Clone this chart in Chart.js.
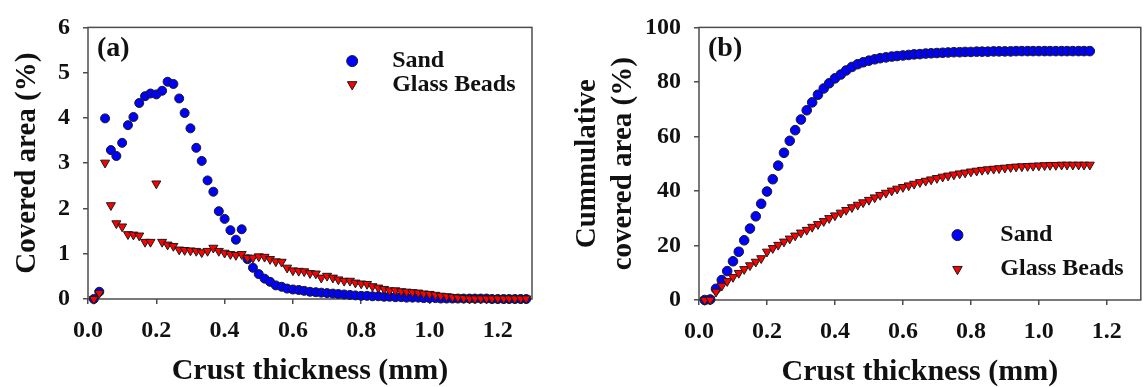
<!DOCTYPE html>
<html>
<head>
<meta charset="utf-8">
<script src="https://cdn.jsdelivr.net/npm/chart.js@4.4.1/dist/chart.umd.min.js"></script>
<style>
  html, body { margin: 0; padding: 0; background: #fff; }
  body { width: 1147px; height: 387px; position: relative; overflow: hidden; }
  .panel { position: absolute; top: 0; }
  #panelA { left: 0; width: 560px; height: 387px; }
  #panelB { left: 570px; width: 577px; height: 387px; }
</style>
</head>
<body>
<div class="panel" id="panelA"><canvas id="chartA" width="560" height="387"></canvas></div>
<div class="panel" id="panelB"><canvas id="chartB" width="577" height="387"></canvas></div>
<script>
// crust thickness steps (mm)
const thickness = [
  0.017, 0.033, 0.050, 0.067, 0.083, 0.100, 0.117, 0.133, 0.150, 0.167,
  0.183, 0.200, 0.217, 0.233, 0.250, 0.267, 0.283, 0.300, 0.317, 0.333,
  0.350, 0.367, 0.383, 0.400, 0.417, 0.433, 0.450, 0.467, 0.483, 0.500,
  0.517, 0.533, 0.550, 0.567, 0.583, 0.600, 0.617, 0.633, 0.650, 0.667,
  0.683, 0.700, 0.717, 0.733, 0.750, 0.767, 0.783, 0.800, 0.817, 0.833,
  0.850, 0.867, 0.883, 0.900, 0.917, 0.933, 0.950, 0.967, 0.983, 1.000,
  1.017, 1.033, 1.050, 1.067, 1.083, 1.100, 1.117, 1.133, 1.150, 1.167,
  1.183, 1.200, 1.217, 1.233, 1.250, 1.267, 1.283
];

// (a) covered area per thickness step (%)
const sandArea = [
  0.00, 0.16, 3.99, 3.29, 3.16, 3.45, 3.84, 4.02, 4.33, 4.48,
  4.54, 4.52, 4.60, 4.80, 4.75, 4.43, 4.11, 3.77, 3.34, 3.05,
  2.62, 2.37, 1.94, 1.77, 1.52, 1.31, 1.54, 0.88, 0.69, 0.55,
  0.45, 0.38, 0.30, 0.27, 0.23, 0.21, 0.20, 0.18, 0.16, 0.15,
  0.14, 0.13, 0.12, 0.11, 0.10, 0.09, 0.08, 0.07, 0.07, 0.06,
  0.06, 0.05, 0.05, 0.04, 0.04, 0.03, 0.03, 0.03, 0.02, 0.02,
  0.02, 0.01, 0.01, 0.01, 0.01, 0.01, 0.01, 0.01, 0.01, 0.01,
  0.00, 0.00, 0.00, 0.00, 0.00, 0.00, 0.00
];
const glassArea = [
  0.00, 0.13, 3.01, 2.07, 1.67, 1.60, 1.43, 1.42, 1.40, 1.26,
  1.26, 2.55, 1.26, 1.20, 1.17, 1.09, 1.08, 1.07, 1.06, 1.03,
  1.06, 1.13, 1.06, 1.02, 0.99, 0.97, 0.99, 0.91, 0.91, 0.94,
  0.93, 0.88, 0.83, 0.82, 0.69, 0.63, 0.62, 0.61, 0.57, 0.56,
  0.47, 0.51, 0.47, 0.43, 0.40, 0.40, 0.36, 0.34, 0.33, 0.28,
  0.25, 0.22, 0.19, 0.19, 0.17, 0.16, 0.15, 0.14, 0.12, 0.11,
  0.09, 0.07, 0.06, 0.04, 0.03, 0.02, 0.01, 0.01, 0.01, 0.01,
  0.01, 0.01, 0.01, 0.01, 0.01, 0.01, 0.01
];

// (b) cumulative covered area (%)
const sandCumulative = [
  0.0, 0.2, 4.1, 7.3, 10.6, 14.2, 17.7, 21.9, 26.2, 30.7,
  35.3, 39.8, 44.3, 49.3, 54.0, 58.4, 62.3, 66.2, 69.6, 72.5,
  75.3, 77.6, 79.5, 81.3, 82.7, 84.2, 85.5, 86.5, 87.2, 87.8,
  88.3, 88.7, 89.0, 89.3, 89.5, 89.7, 89.9, 90.1, 90.2, 90.4,
  90.5, 90.6, 90.7, 90.8, 90.9, 90.9, 91.0, 91.0, 91.1, 91.1,
  91.1, 91.2, 91.2, 91.2, 91.2, 91.3, 91.3, 91.3, 91.3, 91.3,
  91.3, 91.3, 91.3, 91.3, 91.3, 91.3, 91.3, 91.3, 91.3
];
const glassCumulative = [
  0.0, 0.1, 3.0, 5.2, 6.9, 8.4, 9.9, 11.3, 12.7, 14.0,
  15.3, 17.7, 19.0, 20.2, 21.4, 22.5, 23.6, 24.7, 25.7, 26.8,
  27.8, 28.9, 30.0, 31.0, 32.0, 33.0, 34.0, 34.9, 35.8, 36.7,
  37.6, 38.5, 39.3, 40.1, 40.8, 41.4, 42.0, 42.6, 43.2, 43.7,
  44.2, 44.7, 45.2, 45.6, 46.0, 46.4, 46.7, 47.1, 47.4, 47.7,
  47.9, 48.1, 48.3, 48.5, 48.7, 48.9, 49.0, 49.1, 49.2, 49.3,
  49.4, 49.5, 49.5, 49.6, 49.6, 49.6, 49.6, 49.6, 49.6
];

const seriesNames = ['Sand', 'Glass Beads'];
const xTitle = 'Crust thickness (mm)';

const SERIF = '"Liberation Serif", "Times New Roman", serif';
const INK = '#111';
const AXIS = '#4d4d4d';

Chart.defaults.font.family = SERIF;
Chart.defaults.font.weight = 'bold';
Chart.defaults.color = INK;

const sandStyle = { pointStyle: 'circle', backgroundColor: '#0000ff', rotation: 0 };
const glassStyle = { pointStyle: 'triangle', backgroundColor: '#ff0000', rotation: 180 };

function pairs(xs, ys) {
  return ys.map((y, i) => ({ x: xs[i], y: y }));
}

// box around the plot area, panel tag and the inset legend
const panelDecor = {
  id: 'panelDecor',
  beforeDatasetsDraw(chart) {
    const { ctx, chartArea: a } = chart;
    ctx.save();
    ctx.strokeStyle = AXIS;
    ctx.lineWidth = 1.5;
    ctx.strokeRect(a.left, a.top, a.right - a.left, a.bottom - a.top);
    ctx.restore();
  },
  afterDraw(chart, args, opts) {
    const { ctx, chartArea: a } = chart;
    const w = a.right - a.left, h = a.bottom - a.top;
    ctx.save();
    ctx.fillStyle = INK;
    ctx.textBaseline = 'middle';
    ctx.textAlign = 'left';
    ctx.font = 'bold 28px ' + SERIF;
    ctx.fillText(opts.tag, a.left + 9, a.top + 21);

    ctx.font = 'bold 24px ' + SERIF;
    opts.legend.forEach((item, i) => {
      const y = a.top + h * opts.legendY[i];
      const mx = a.left + w * opts.markerX;
      ctx.fillStyle = item.style.backgroundColor;
      ctx.strokeStyle = '#1a1a1a';
      ctx.lineWidth = 1;
      Chart.helpers.drawPoint(ctx, {
        pointStyle: item.style.pointStyle,
        rotation: item.style.rotation,
        radius: 5.5,
        borderWidth: 1
      }, mx, y);
      ctx.fillStyle = INK;
      ctx.fillText(item.label, a.left + w * opts.textX, y);
    });
    ctx.restore();
  }
};

function makeDataset(label, data, style, radius, order) {
  return {
    label: label,
    data: data,
    showLine: false,
    clip: false,
    order: order,
    pointStyle: style.pointStyle,
    rotation: style.rotation,
    pointRadius: radius,
    pointHoverRadius: radius,
    pointBackgroundColor: style.backgroundColor,
    pointBorderColor: '#1a1a1a',
    pointBorderWidth: 1
  };
}

function axisX(titlePadBottom, height) {
  return {
    type: 'linear',
    min: 0,
    max: 1.3,
    afterFit: s => { s.height = height; },
    border: { display: false },
    grid: { drawOnChartArea: false, drawTicks: true, tickLength: 5, color: AXIS, lineWidth: 1.5 },
    ticks: {
      stepSize: 0.2,
      includeBounds: false,
      padding: 12,
      color: INK,
      font: { size: 24, weight: 'bold' },
      maxRotation: 0,
      callback: v => v.toFixed(1)
    },
    title: {
      display: true,
      text: xTitle,
      color: INK,
      font: { size: 30, weight: 'bold', lineHeight: 1 },
      padding: { top: 0, bottom: titlePadBottom }
    }
  };
}

function axisY(max, step, width, title, titlePadTop, lineHeight) {
  return {
    type: 'linear',
    min: 0,
    max: max,
    afterFit: s => { s.width = width; },
    border: { display: false },
    grid: { drawOnChartArea: false, drawTicks: true, tickLength: 5, color: AXIS, lineWidth: 1.5 },
    ticks: {
      stepSize: step,
      padding: 13,
      color: INK,
      font: { size: 24, weight: 'bold' }
    },
    title: {
      display: true,
      text: title,
      color: INK,
      font: { size: 29, weight: 'bold', lineHeight: lineHeight },
      padding: { top: titlePadTop, bottom: 0 }
    }
  };
}

const legendItems = [
  { label: seriesNames[0], style: sandStyle },
  { label: seriesNames[1], style: glassStyle }
];

new Chart(document.getElementById('chartA'), {
  type: 'scatter',
  data: {
    datasets: [
      makeDataset(seriesNames[0], pairs(thickness, sandArea), sandStyle, 4.5, 1),
      makeDataset(seriesNames[1], pairs(thickness, glassArea), glassStyle, 5.2, 0)
    ]
  },
  options: {
    responsive: false,
    animation: false,
    events: [],
    layout: { padding: { top: 17, right: 28, left: 0, bottom: 0 } },
    scales: {
      x: axisX(1, 88),
      y: axisY(6, 1, 88, 'Covered area (%)', 10, 1.2)
    },
    plugins: {
      legend: { display: false },
      tooltip: { enabled: false },
      panelDecor: { tag: '(a)', legend: legendItems, markerX: 0.595, textX: 0.685, legendY: [0.124, 0.21] }
    }
  },
  plugins: [panelDecor]
});

new Chart(document.getElementById('chartB'), {
  type: 'scatter',
  data: {
    datasets: [
      makeDataset(seriesNames[0], pairs(thickness, sandCumulative), sandStyle, 4.8, 1),
      makeDataset(seriesNames[1], pairs(thickness, glassCumulative), glassStyle, 5.2, 0)
    ]
  },
  options: {
    responsive: false,
    animation: false,
    events: [],
    layout: { padding: { top: 18, right: 1, left: 0, bottom: 0 } },
    scales: {
      x: axisX(0, 87),
      y: axisY(100, 20, 129, ['Cummulative', 'covered area (%)'], 0, 1.24)
    },
    plugins: {
      legend: { display: false },
      tooltip: { enabled: false },
      panelDecor: { tag: '(b)', legend: legendItems, markerX: 0.585, textX: 0.682, legendY: [0.762, 0.887] }
    }
  },
  plugins: [panelDecor]
});
</script>
</body>
</html>
